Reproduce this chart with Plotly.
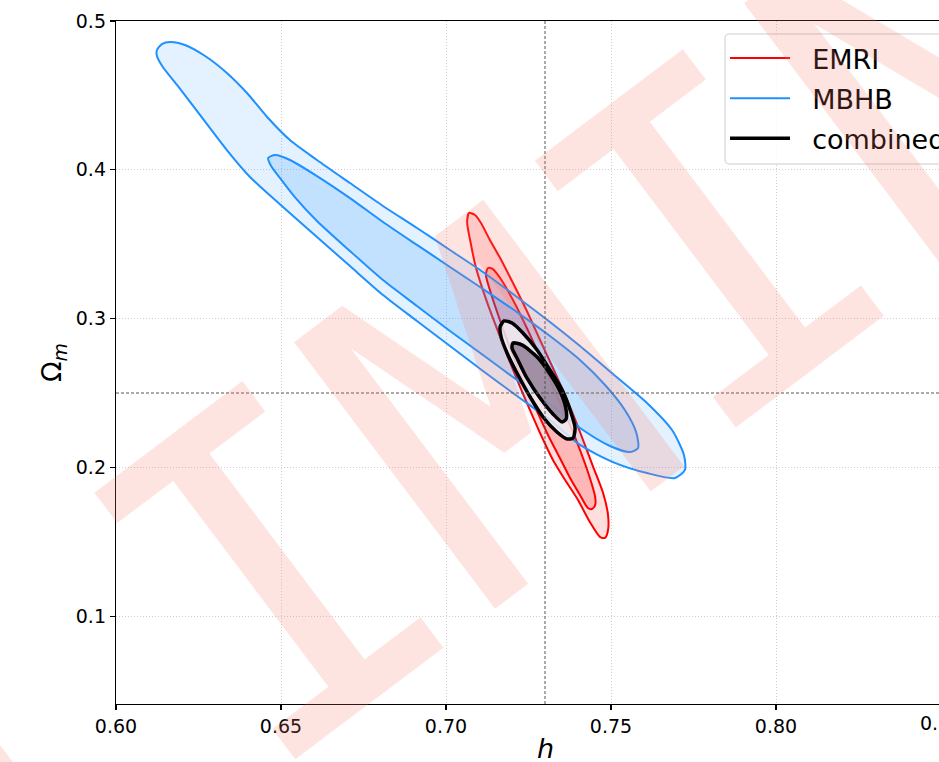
import plotly.graph_objects as go

# ---------------- data (h, Omega_m) ----------------
TRUE_H = 0.73
TRUE_OM = 0.25

X_TICKS = [0.60, 0.65, 0.70, 0.75, 0.80]
X_TICK_TEXT = ["0.60", "0.65", "0.70", "0.75", "0.80"]
X_EXTRA_TICK = 0.85
X_EXTRA_TEXT = "0.85"
Y_TICKS = [0.1, 0.2, 0.3, 0.4, 0.5]
Y_TICK_TEXT = ["0.1", "0.2", "0.3", "0.4", "0.5"]

# MBHB 2-sigma contour
MBHB_OUTER_H = [0.6124, 0.6139, 0.6164, 0.6209, 0.6270, 0.6336, 0.6397, 0.6458, 0.6527,
                0.6609, 0.6709, 0.6809, 0.6912, 0.7012, 0.7112, 0.7215, 0.7315, 0.7406,
                0.7506, 0.7609, 0.7685, 0.7721, 0.7724,
                0.7694, 0.7609, 0.7506, 0.7406, 0.7315, 0.7215, 0.7112, 0.7012, 0.6912,
                0.6809, 0.6709, 0.6609, 0.6506, 0.6406, 0.6336, 0.6255, 0.6185, 0.6142,
                0.6124]
MBHB_OUTER_OM = [0.4805, 0.4845, 0.4859, 0.4839, 0.4765, 0.4651, 0.4516, 0.4355, 0.4200,
                 0.4066, 0.3911, 0.3757, 0.3609, 0.3461, 0.3313, 0.3145, 0.2977, 0.2816,
                 0.2628, 0.2433, 0.2251, 0.2083, 0.1983,
                 0.1929, 0.1962, 0.2036, 0.2151, 0.2319, 0.2480, 0.2648, 0.2816, 0.2984,
                 0.3159, 0.3353, 0.3548, 0.3750, 0.3952, 0.4133, 0.4368, 0.4570, 0.4691,
                 0.4765]

# MBHB 1-sigma contour
MBHB_INNER_H = [0.6461, 0.6482, 0.6527, 0.6609, 0.6709, 0.6809, 0.6912, 0.7012, 0.7112,
                0.7215, 0.7315, 0.7406, 0.7482, 0.7542, 0.7576, 0.7582,
                0.7558, 0.7497, 0.7406, 0.7315, 0.7215, 0.7112, 0.7012, 0.6912, 0.6809,
                0.6709, 0.6609, 0.6542, 0.6497, 0.6470]
MBHB_INNER_OM = [0.4079, 0.4099, 0.4066, 0.3958, 0.3810, 0.3649, 0.3495, 0.3347, 0.3199,
                 0.3044, 0.2883, 0.2722, 0.2554, 0.2386, 0.2238, 0.2130,
                 0.2103, 0.2144, 0.2265, 0.2426, 0.2587, 0.2755, 0.2917, 0.3085, 0.3259,
                 0.3454, 0.3656, 0.3817, 0.3945, 0.4026]

# EMRI 2-sigma contour
EMRI_OUTER_H = [0.7070, 0.7088, 0.7106, 0.7133, 0.7164, 0.7203, 0.7245, 0.7285, 0.7324,
                0.7367, 0.7406, 0.7445, 0.7476, 0.7491, 0.7491, 0.7482, 0.7467, 0.7436,
                0.7400, 0.7361, 0.7324, 0.7285, 0.7245, 0.7203, 0.7164, 0.7124, 0.7091,
                0.7073, 0.7064]
EMRI_OUTER_OM = [0.3710, 0.3696, 0.3642, 0.3528, 0.3407, 0.3239, 0.3051, 0.2856, 0.2668,
                 0.2453, 0.2238, 0.2009, 0.1828, 0.1680, 0.1579, 0.1526, 0.1532, 0.1633,
                 0.1781, 0.1915, 0.2050, 0.2231, 0.2433, 0.2655, 0.2876, 0.3112, 0.3340,
                 0.3528, 0.3649]

# EMRI 1-sigma contour
EMRI_INNER_H = [0.7127, 0.7142, 0.7164, 0.7203, 0.7245, 0.7285, 0.7324, 0.7367, 0.7406,
                0.7436, 0.7452, 0.7452, 0.7442, 0.7430, 0.7406, 0.7376, 0.7345, 0.7309,
                0.7270, 0.7230, 0.7194, 0.7158, 0.7133, 0.7121]
EMRI_INNER_OM = [0.3340, 0.3333, 0.3273, 0.3125, 0.2937, 0.2742, 0.2540, 0.2332, 0.2117,
                 0.1929, 0.1801, 0.1747, 0.1720, 0.1727, 0.1815, 0.1929, 0.2063, 0.2218,
                 0.2406, 0.2601, 0.2802, 0.3024, 0.3192, 0.3293]

# combined 2-sigma contour
COMB_OUTER_H = [0.7176, 0.7200, 0.7233, 0.7276, 0.7315, 0.7352, 0.7376, 0.7391, 0.7385,
                0.7367, 0.7336, 0.7294, 0.7255, 0.7215, 0.7185, 0.7167, 0.7164]
COMB_OUTER_OM = [0.2984, 0.2970, 0.2903, 0.2789, 0.2655, 0.2520, 0.2386, 0.2265, 0.2198,
                 0.2191, 0.2238, 0.2339, 0.2473, 0.2634, 0.2769, 0.2876, 0.2944]

# combined 1-sigma contour
COMB_INNER_H = [0.7203, 0.7230, 0.7276, 0.7315, 0.7348, 0.7364, 0.7364, 0.7352, 0.7324,
                0.7285, 0.7245, 0.7215, 0.7200]
COMB_INNER_OM = [0.2836, 0.2823, 0.2742, 0.2628, 0.2500, 0.2386, 0.2325, 0.2305, 0.2359,
                 0.2466, 0.2601, 0.2735, 0.2802]

SERIES_NAMES = ["EMRI", "MBHB", "combined"]
X_TITLE = "<i>h</i>"
Y_TITLE = "Ω<sub><i>m</i></sub>"
WATERMARK = "PRELIMINARY"

# ---------------- styling ----------------
FONT = "DejaVu Sans"
RED = "#ff0000"
BLUE = "#1e90ff"
BLACK = "#000000"
X_RANGE = [0.6, 0.84939]
Y_RANGE = [0.041, 0.5]

# legend frame (paper coordinates)
LEG_X0, LEG_X1 = 0.74, 1.10
LEG_Y0, LEG_Y1 = 0.7906, 0.981
RX, RY = 0.0055, 0.0066


def closed(a):
    return list(a) + [a[0]]


fig = go.Figure()


def add_contour(hs, oms, fill, color, width):
    fig.add_trace(go.Scatter(
        x=closed(hs), y=closed(oms), mode="lines", fill="toself",
        fillcolor=fill, line=dict(color=color, width=width, shape="spline", smoothing=0.7),
        showlegend=False, hoverinfo="skip"))


add_contour(EMRI_OUTER_H, EMRI_OUTER_OM, "rgba(255,0,0,0.13)", RED, 2)
add_contour(EMRI_INNER_H, EMRI_INNER_OM, "rgba(255,0,0,0.17)", RED, 2)
add_contour(MBHB_OUTER_H, MBHB_OUTER_OM, "rgba(30,144,255,0.12)", BLUE, 2)
add_contour(MBHB_INNER_H, MBHB_INNER_OM, "rgba(30,144,255,0.17)", BLUE, 2)
add_contour(COMB_OUTER_H, COMB_OUTER_OM, "rgba(246,244,246,0.78)", BLACK, 3.5)
add_contour(COMB_INNER_H, COMB_INNER_OM, "rgba(112,86,120,0.6)", BLACK, 3.5)

# legend entries
for i, (name, col, w) in enumerate(zip(SERIES_NAMES, [RED, BLUE, BLACK], [2, 2, 3.5])):
    fig.add_trace(go.Scatter(x=[None], y=[None], mode="lines", name="\u00a0\u00a0" + name,
                             legendgroup="g%d" % i, line=dict(color=col, width=w)))

# true-value reference lines
fig.add_shape(type="line", xref="x", yref="paper", x0=TRUE_H, x1=TRUE_H, y0=0, y1=1,
              line=dict(color="#555555", width=1, dash="3px,2px"), layer="above")
fig.add_shape(type="line", xref="paper", yref="y", x0=0, x1=1, y0=TRUE_OM, y1=TRUE_OM,
              line=dict(color="#555555", width=1, dash="3px,2px"), layer="above")

# rounded legend frame (drawn under the watermark, like the reference)
frame = ("M {a},{y0} L {x1},{y0} L {x1},{y1} L {a},{y1} Q {x0},{y1} {x0},{b} "
         "L {x0},{c} Q {x0},{y0} {a},{y0} Z").format(
    a=LEG_X0 + RX, x0=LEG_X0, x1=LEG_X1, y0=LEG_Y0, y1=LEG_Y1, b=LEG_Y1 - RY, c=LEG_Y0 + RY)
fig.add_shape(type="path", xref="paper", yref="paper", path=frame,
              fillcolor="rgba(255,255,255,0.8)", line=dict(color="#cccccc", width=1),
              layer="above")

axis_common = dict(
    showgrid=True, gridcolor="#cfcfcf", griddash="1px,2px", gridwidth=1,
    zeroline=False, showline=True, linecolor="black", linewidth=1.2,
    ticks="outside", ticklen=5, tickwidth=1.2, tickcolor="black",
    tickfont=dict(family=FONT, size=19, color="black"),
)

fig.update_xaxes(range=X_RANGE, tickvals=X_TICKS, ticktext=X_TICK_TEXT, mirror=True,
                 **axis_common)
fig.update_yaxes(range=Y_RANGE, tickvals=Y_TICKS, ticktext=Y_TICK_TEXT,
                 title=dict(text=Y_TITLE, font=dict(family=FONT, size=27, color="black"),
                            standoff=6),
                 **axis_common)

# x-axis title, placed like the reference (centred on the uncropped axes)
fig.add_annotation(text=X_TITLE, xref="paper", yref="paper", x=0.5213, y=-0.0849,
                   xanchor="center", yanchor="bottom", yshift=-4, showarrow=False,
                   font=dict(family=FONT, size=27, color="black"))

# the 0.85 tick label, cut by the right border of the figure
fig.add_annotation(text=X_EXTRA_TEXT, xref="paper", yref="paper",
                   x=(X_EXTRA_TICK - X_RANGE[0]) / (X_RANGE[1] - X_RANGE[0]), y=0,
                   yanchor="top", xanchor="center",
                   yshift=-6, showarrow=False, font=dict(family=FONT, size=19, color="black"))

# watermark
fig.add_annotation(text=WATERMARK, xref="paper", yref="paper", x=0.4605, y=0.429,
                   xanchor="center", yanchor="middle", showarrow=False, textangle=-37,
                   font=dict(family="DejaVu Sans Mono", size=458, color="rgba(248,120,105,0.2)"))

fig.update_layout(
    width=939, height=762,
    margin=dict(l=116, r=0, t=21, b=58, autoexpand=False),
    paper_bgcolor="white", plot_bgcolor="white",
    font=dict(family=FONT, color="black"),
    legend=dict(x=LEG_X0, y=LEG_Y1, xanchor="left", yanchor="top",
                bgcolor="rgba(0,0,0,0)", borderwidth=0,
                font=dict(family=FONT, size=27, color="black"), itemwidth=60,
                tracegroupgap=2),
)

fig.write_html("out.html", config={"displayModeBar": False, "staticPlot": True},
               post_script="document.body.style.margin='0';document.body.style.overflow='hidden';")
